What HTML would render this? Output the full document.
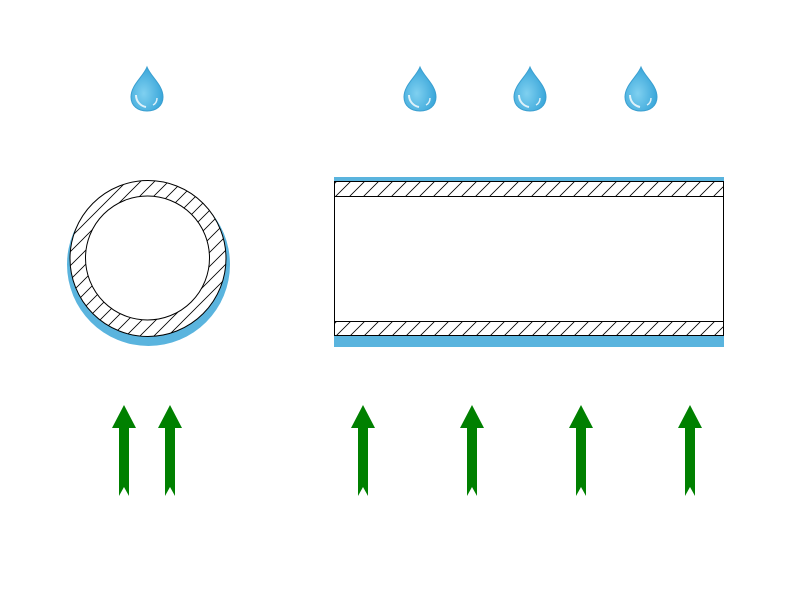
<!DOCTYPE html>
<html><head><style>body{margin:0;background:#fff}</style></head><body>
<svg width="800" height="600" viewBox="0 0 800 600" xmlns="http://www.w3.org/2000/svg">
<defs>
<pattern id="h" patternUnits="userSpaceOnUse" width="14" height="14">
<rect width="14" height="14" fill="#fff"/>
<path d="M-2,16 L16,-2 M-9,9 L9,-9 M5,23 L23,5" stroke="#000" stroke-width="0.8"/>
</pattern>
<radialGradient id="dg" cx="0.4" cy="0.6" r="0.7">
<stop offset="0" stop-color="#7fd0f0"/><stop offset="1" stop-color="#2e9fd6"/>
</radialGradient>
<g id="drop">
<path d="M0,-22 C4,-12 16,-4 16,8 C16,17 9,22 0,22 C-9,22 -16,17 -16,8 C-16,-4 -4,-12 0,-22Z" fill="url(#dg)" stroke="#3a9fd0" stroke-width="1"/>
<path d="M-11,6 C-11,13 -6,17 -1,18" stroke="#fff" stroke-width="2" fill="none" opacity="0.8"/>
<path d="M10,9 C10,13 8,15 6,16" stroke="#fff" stroke-width="1.5" fill="none" opacity="0.8"/>
</g>
<path id="arr" d="M0,0 L12,23 L5,23 L5,91 L0,82 L-5,91 L-5,23 L-12,23Z" fill="#008000"/>
</defs>
<use href="#drop" x="147" y="89"/>
<use href="#drop" x="420" y="89"/>
<use href="#drop" x="530" y="89"/>
<use href="#drop" x="641" y="89"/>
<circle cx="148.5" cy="264.5" r="81.5" fill="#5ab4de"/>
<circle cx="148" cy="258.5" r="78" fill="#fff"/>
<circle cx="148" cy="258.5" r="78" fill="url(#h)" stroke="#000" stroke-width="1"/>
<circle cx="147.5" cy="258" r="62" fill="#fff" stroke="#000" stroke-width="1"/>
<rect x="334" y="177" width="390" height="4" fill="#5ab4de"/>
<rect x="334" y="336" width="390" height="11" fill="#5ab4de"/>
<rect x="334.5" y="181.5" width="389" height="154" fill="#fff" stroke="#000"/>
<rect x="334.5" y="181.5" width="389" height="15" fill="url(#h)" stroke="#000"/>
<rect x="334.5" y="321.5" width="389" height="14" fill="url(#h)" stroke="#000"/>
<use href="#arr" x="124" y="405"/>
<use href="#arr" x="170" y="405"/>
<use href="#arr" x="363" y="405"/>
<use href="#arr" x="472" y="405"/>
<use href="#arr" x="581" y="405"/>
<use href="#arr" x="690" y="405"/>
</svg>
</body></html>
